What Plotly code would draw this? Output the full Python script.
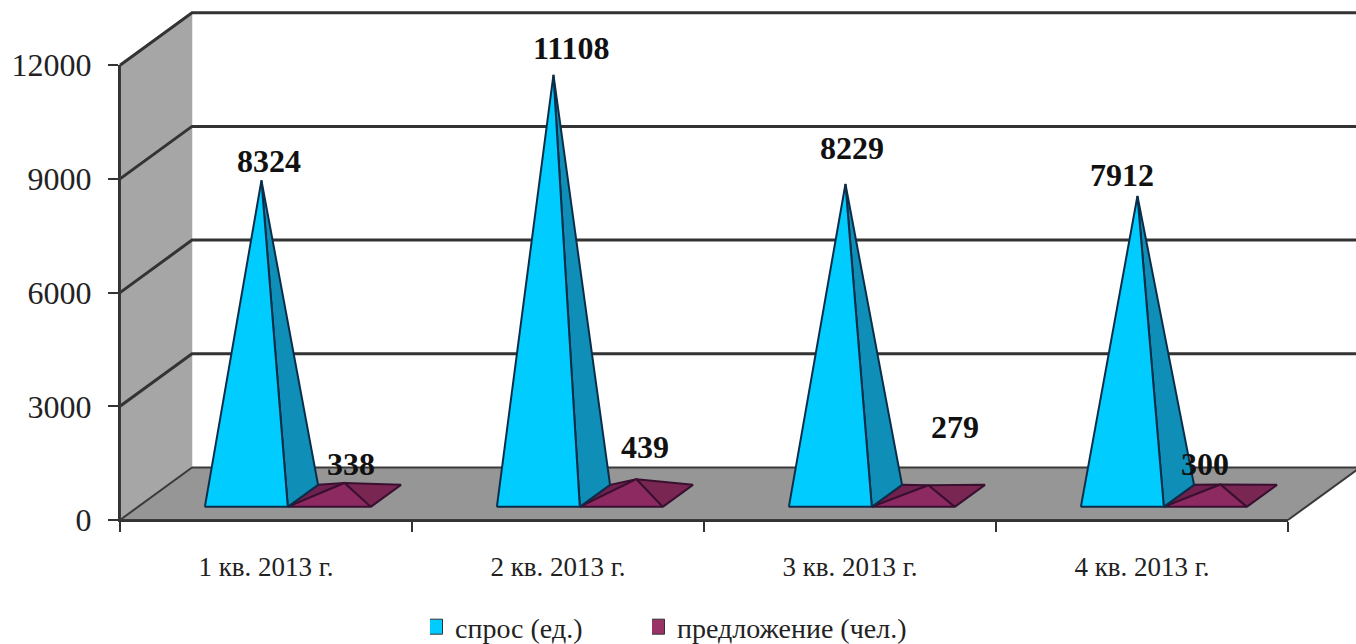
import plotly.graph_objects as go

categories = ["1 кв. 2013 г.", "2 кв. 2013 г.", "3 кв. 2013 г.", "4 кв. 2013 г."]
demand = [8324, 11108, 8229, 7912]
supply = [338, 439, 279, 300]
y_ticks = [0, 3000, 6000, 9000, 12000]
demand_name = "спрос (ед.)"
supply_name = "предложение (чел.)"

# page / scale geometry
W, H = 1356, 644
X0, CAT_PX = 120, 292
Y0, UNIT_PX = 520, 0.0379
DX, DY = 72 / CAT_PX, 52.5 / UNIT_PX   # full depth of the 3-D box, in axis units
BAR_L, BAR_W = 0.229, 0.284
D_FRONT, D_BACK, D_APEX = 0.25, 0.67, 0.46
FONT = "Liberation Serif"
TEXT = "#222222"

demand_off = [(8, 19), (18, 27), (7, 36), (-15, 21)]
supply_off = [(7, 19), (9, 32), (27, 58), (-15, 20)]


def P(x, v, d):
    return x + d * DX, v + d * DY


def poly(points, store):
    for p in points + [points[0]]:
        store[0].append(p[0])
        store[1].append(p[1])
    store[0].append(None)
    store[1].append(None)


def faces(values, left_off):
    left, right, front = ([], []), ([], []), ([], [])
    apexes = []
    for i, v in enumerate(values):
        l = i + left_off
        r = l + BAR_W
        fl, fr = P(l, 0, D_FRONT), P(r, 0, D_FRONT)
        bl, br = P(l, 0, D_BACK), P(r, 0, D_BACK)
        a = P((l + r) / 2, v, D_APEX)
        poly([fl, bl, a], left)
        poly([fr, br, a], right)
        poly([fl, fr, a], front)
        apexes.append(a)
    return left, right, front, apexes


def add_poly(fig, store, fill, line, width=2):
    fig.add_trace(go.Scatter(x=store[0], y=store[1], mode="lines", fill="toself", fillcolor=fill,
                             line=dict(color=line, width=width), hoverinfo="skip", showlegend=False))


fig = go.Figure()
TOP = y_ticks[-1]
N = len(categories)

# side wall and floor
side, floor = ([], []), ([], [])
poly([P(0, 0, 0), P(0, TOP, 0), P(0, TOP, 1), P(0, 0, 1)], side)
poly([P(0, 0, 0), P(N, 0, 0), P(N, 0, 1), P(0, 0, 1)], floor)
add_poly(fig, side, "#A6A6A6", "#A6A6A6", 0.5)
add_poly(fig, floor, "#969696", "#969696", 0.5)

# gridlines on side wall and back wall
gx, gy = [], []
for t in y_ticks[1:]:
    for p in (P(0, t, 0), P(0, t, 1), P(N, t, 1)):
        gx.append(p[0]); gy.append(p[1])
    gx.append(None); gy.append(None)
fig.add_trace(go.Scatter(x=gx, y=gy, mode="lines", line=dict(color="#333333", width=3),
                         hoverinfo="skip", showlegend=False))

# floor edges and the front edges of the box
ex, ey = [], []
for a, b in ((P(0, 0, 0), P(0, 0, 1)), (P(0, 0, 1), P(N, 0, 1)), (P(N, 0, 0), P(N, 0, 1)),
             (P(0, 0, 0), P(0, TOP, 0)), (P(0, 0, 0), P(N, 0, 0))):
    ex += [a[0], b[0], None]; ey += [a[1], b[1], None]
fig.add_trace(go.Scatter(x=ex, y=ey, mode="lines", line=dict(color="#3A3A3A", width=2),
                         hoverinfo="skip", showlegend=False))

# pyramids
s_left, s_right, s_front, s_apex = faces(supply, BAR_L + BAR_W)
d_left, d_right, d_front, d_apex = faces(demand, BAR_L)
add_poly(fig, s_left, "#70214F", "#3A1030")
add_poly(fig, s_right, "#7A2653", "#3A1030")
add_poly(fig, s_front, "#8E2A62", "#3A1030")
add_poly(fig, d_right, "#0F8FB8", "#0A2E4A")
add_poly(fig, d_front, "#00CCFF", "#0A2E4A")

# legend entries
for name, colour, leg in ((demand_name, "#00CCFF", "legend"), (supply_name, "#993366", "legend2")):
    fig.add_trace(go.Scatter(x=[None], y=[None], mode="markers", name=name, hoverinfo="skip", legend=leg,
                             marker=dict(symbol="square", size=15, color=colour,
                                         line=dict(color="#333333", width=1))))

# visible axes live on a second subplot that shares the same scale
fig.add_trace(go.Scatter(x=categories, y=demand, xaxis="x2", yaxis="y2", mode="none",
                         hoverinfo="skip", showlegend=False))

# data labels
annotations = []
for apexes, values, offs in ((d_apex, demand, demand_off), (s_apex, supply, supply_off)):
    for a, v, off in zip(apexes, values, offs):
        annotations.append(dict(x=a[0], y=a[1], xref="x", yref="y", text=str(v), showarrow=False,
                                xshift=off[0], yshift=off[1],
                                font=dict(family=FONT, size=32, color="#111111", weight="bold")))

legend_style = dict(orientation="h", y=-0.0124, yanchor="bottom", xanchor="left",
                    font=dict(family=FONT, size=28, color=TEXT), indentation=-15,
                    bgcolor="rgba(0,0,0,0)", itemclick=False, itemdoubleclick=False)

y_top_px = Y0 - TOP * UNIT_PX
fig.update_layout(
    width=W, height=H, autosize=False,
    margin=dict(l=0, r=0, t=0, b=0, pad=0, autoexpand=False),
    paper_bgcolor="white", plot_bgcolor="rgba(0,0,0,0)",
    font=dict(family=FONT, color=TEXT),
    annotations=annotations,
    xaxis=dict(domain=[0, 1], range=[-X0 / CAT_PX, (W - X0) / CAT_PX], visible=False, fixedrange=True),
    yaxis=dict(domain=[0, 1], range=[-(H - Y0) / UNIT_PX, Y0 / UNIT_PX], visible=False, fixedrange=True),
    xaxis2=dict(anchor="y2", type="category", categoryorder="array", categoryarray=categories,
                domain=[X0 / W, (X0 + N * CAT_PX) / W], range=[-0.5, N - 0.5],
                tickson="boundaries", ticks="outside", ticklen=10, tickwidth=2, tickcolor="#333333",
                showline=True, linecolor="#333333", linewidth=2, showgrid=False, zeroline=False,
                tickfont=dict(family=FONT, size=27, color=TEXT), ticklabelstandoff=22, fixedrange=True),
    yaxis2=dict(anchor="x2", domain=[(H - Y0) / H, (H - y_top_px) / H], range=[0, TOP],
                tickvals=y_ticks, ticks="outside", ticklen=10, tickwidth=2, tickcolor="#333333",
                showline=True, linecolor="#333333", linewidth=2, showgrid=False, zeroline=False,
                tickfont=dict(family=FONT, size=32, color=TEXT), tickformat="d",
                ticklabelstandoff=10, fixedrange=True),
    legend=dict(x=430 / W, **legend_style),
    legend2=dict(x=652 / W, **legend_style),
    hovermode=False,
)

fig.write_html("out.html", config=dict(displayModeBar=False, staticPlot=True),
               post_script="document.body.style.margin='0';document.body.style.overflow='hidden';")
